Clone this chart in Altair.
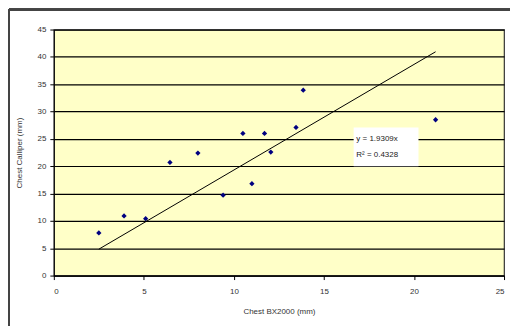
import altair as alt
import pandas as pd

bx2000 = [2.5, 3.9, 5.1, 6.45, 8.0, 9.4, 10.5, 11.0, 11.7, 12.05, 13.45, 13.85, 21.2]
calliper = [7.8, 10.9, 10.4, 20.7, 22.4, 14.7, 26.0, 16.8, 26.0, 22.6, 27.1, 33.9, 28.5]
slope = 1.9309
eq_lines = ["y = 1.9309x", "R\u00b2 = 0.4328"]
x_ticks = [0, 5, 10, 15, 20, 25]
y_ticks = [0, 5, 10, 15, 20, 25, 30, 35, 40, 45]

df = pd.DataFrame({"x": bx2000, "y": calliper})
xmin, xmax = min(bx2000), max(bx2000)
trend = pd.DataFrame({"x": [xmin, xmax], "y": [slope * xmin, slope * xmax]})

FONT = "Liberation Sans"

xs = alt.Scale(domain=[0, 25], nice=False)
ys = alt.Scale(domain=[0, 45], nice=False)

xaxis = alt.Axis(values=x_ticks, title="Chest BX2000 (mm)", grid=False,
                 tickColor="black", domainColor="black", tickSize=4, labelPadding=8,
                 titlePadding=12, labelOverlap=False)
yaxis = alt.Axis(values=y_ticks, title="Chest Calliper (mm)",
                 grid=True, gridColor="black", gridOpacity=1, gridWidth=1.2,
                 tickColor="black", domainColor="black", tickSize=4, labelPadding=4,
                 titlePadding=14, labelOverlap=False)


def X(f="x"):
    return alt.X(f + ":Q", scale=xs, axis=xaxis)


def Y(f="y"):
    return alt.Y(f + ":Q", scale=ys, axis=yaxis)


points = alt.Chart(df).mark_point(shape="diamond", filled=True, size=28, color="#000080", opacity=1).encode(
    x=X(), y=Y()
)

line = alt.Chart(trend).mark_line(color="black", strokeWidth=1).encode(x=X(), y=Y())

box_df = pd.DataFrame({"x": [16.65], "x2": [20.25], "y": [27.1], "y2": [20.0]})
box = alt.Chart(box_df).mark_rect(color="white").encode(x=X(), x2="x2", y=Y(), y2="y2")

txt_df = pd.DataFrame({"x": [16.8, 16.8], "y": [25.0, 22.0], "t": eq_lines})
txt = alt.Chart(txt_df).mark_text(align="left", baseline="middle", fontSize=8, font=FONT, color="#222").encode(
    x=X(), y=Y(), text="t:N"
)

frame_top = alt.Chart(df).mark_rule(color="#444", strokeWidth=2, clip=False).encode(
    x=alt.value(-45), x2=alt.value(470), y=alt.value(-20)
)
frame_left = alt.Chart(df).mark_rule(color="#444", strokeWidth=2, clip=False).encode(
    x=alt.value(-45), y=alt.value(-20), y2=alt.value(300)
)

chart = alt.layer(points, line, box, txt, frame_top, frame_left).properties(
    width=452, height=247,
    autosize=alt.AutoSizeParams(type="none"),
    padding={"left": 46, "top": 21, "right": 6, "bottom": 50},
    background="white",
).configure_view(
    fill="#FFFFC8", stroke="#333", strokeWidth=1.2
).configure_axis(
    labelFont=FONT, titleFont=FONT, labelFontSize=8, titleFontSize=8,
    labelColor="#333", titleColor="#333", titleFontWeight="normal"
)

chart.save("out.html", embed_options={"renderer": "svg", "actions": False})
